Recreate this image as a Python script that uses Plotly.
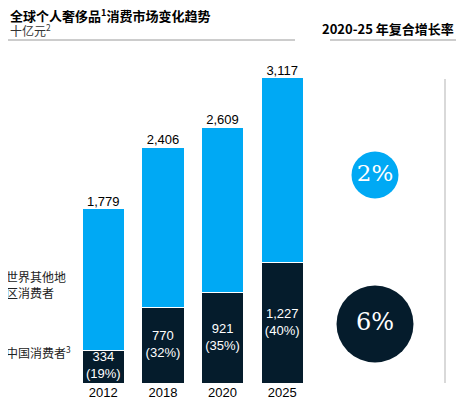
import plotly.graph_objects as go

years = ["2012", "2018", "2020", "2025"]
totals = [1779, 2406, 2609, 3117]
china = [334, 770, 921, 1227]
china_share = ["19%", "32%", "35%", "40%"]
cagr_labels = ["2%", "6%"]   # rest of world, china

LIGHT = "#00A9F4"
DARK = "#051C2C"
# the page body adds an 8px margin, so the figure is drawn 8px in from the window corner
OFF = 8
W, H = 468 - OFF, 412 - OFF


def px(x):
    return (x - OFF) / W


def py(y):
    return 1 - (y - OFF) / H


rest = [t - c for t, c in zip(totals, china)]
pos = list(range(len(years)))

fig = go.Figure()
fig.add_trace(go.Bar(x=pos, y=china, marker=dict(color=DARK, line=dict(color="white", width=1)),
                     hoverinfo="skip"))
fig.add_trace(go.Bar(x=pos, y=rest, marker=dict(color=LIGHT, line=dict(color="white", width=1)),
                     hoverinfo="skip"))
# totals above the bars
fig.add_trace(go.Scatter(x=pos, y=totals, mode="text",
                         text=[f"{t:,}" for t in totals], textposition="top center",
                         textfont=dict(family="Liberation Sans", size=13, color="black"),
                         cliponaxis=False, hoverinfo="skip"))
# China segment labels
fig.add_trace(go.Scatter(x=pos, y=[c / 2 for c in china], mode="text",
                         text=[f"{c:,}<br>({s})" for c, s in zip(china, china_share)],
                         textposition="middle center",
                         textfont=dict(family="Liberation Sans", size=13, color="white"),
                         hoverinfo="skip"))

# CAGR circles, on a second axis pair measured in window pixels
fig.add_trace(go.Scatter(x=[375, 375], y=[175, 324], xaxis="x2", yaxis="y2", mode="markers+text",
                         marker=dict(size=[47, 77], color=[LIGHT, DARK], opacity=1, line=dict(width=0)),
                         text=cagr_labels, textposition="middle center",
                         textfont=dict(family="DejaVu Serif", size=[23, 24], color="white"),
                         hoverinfo="skip"))

fig.update_layout(
    width=W, height=H, barmode="stack", bargap=0.29, showlegend=False,
    margin=dict(l=0, r=0, t=0, b=0),
    plot_bgcolor="rgba(0,0,0,0)", paper_bgcolor="white",
    xaxis=dict(domain=[px(73.5), px(312)], range=[-0.5, 3.5], tickvals=pos, ticktext=years,
               showgrid=False, zeroline=False, showline=False, ticks="",
               tickfont=dict(family="Liberation Sans", size=13, color="black")),
    yaxis=dict(domain=[py(383), py(50.3)], range=[0, 3400], visible=False),
    xaxis2=dict(domain=[0, 1], range=[OFF, 468], visible=False, anchor="y2"),
    yaxis2=dict(domain=[0, 1], range=[412, OFF], visible=False, anchor="x2"),
)

# header
fig.add_annotation(xref="paper", yref="paper", x=0, y=py(15), xanchor="left", yanchor="middle",
                   text="<b>全球个人奢侈品<sup>1</sup>消费市场变化趋势</b>", showarrow=False,
                   font=dict(family="Noto Sans CJK SC", size=13, color="black"))
fig.add_annotation(xref="paper", yref="paper", x=0, y=py(30), xanchor="left", yanchor="middle",
                   text="十亿元<sup>2</sup>", showarrow=False,
                   font=dict(family="Noto Sans CJK SC", size=12, color="#333333"))
fig.add_annotation(xref="paper", yref="paper", x=px(456), y=py(28), xanchor="right", yanchor="middle",
                   text="<b>2020-25 年复合增长率</b>", showarrow=False,
                   font=dict(family="Noto Sans CJK SC", size=13, color="black"))
fig.add_shape(type="line", xref="paper", yref="paper", x0=0, x1=px(295), y0=py(40), y1=py(40),
              line=dict(color="#9a9a9a", width=1))
fig.add_shape(type="line", xref="paper", yref="paper", x0=px(330), x1=px(456), y0=py(40), y1=py(40),
              line=dict(color="#9a9a9a", width=1))
fig.add_shape(type="line", xref="paper", yref="paper", x0=px(445), x1=px(445), y0=py(79), y1=py(383),
              line=dict(color="#cccccc", width=1.5))

# series labels
fig.add_annotation(xref="paper", yref="paper", x=px(4), y=py(266), xanchor="left", yanchor="top",
                   text="世界其他地<br>区消费者", showarrow=False, align="left",
                   font=dict(family="Noto Sans CJK SC", size=12, color="#222222"))
fig.add_annotation(xref="paper", yref="paper", x=px(4), y=py(352), xanchor="left", yanchor="middle",
                   text="中国消费者<sup>3</sup>", showarrow=False, align="left",
                   font=dict(family="Noto Sans CJK SC", size=12, color="#222222"))

fig.write_html("out.html")
